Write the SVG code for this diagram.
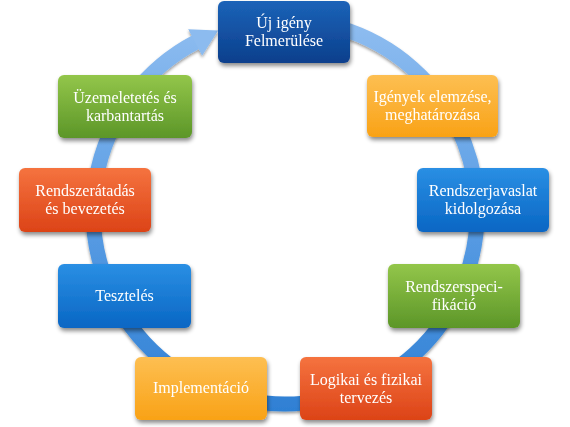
<svg xmlns="http://www.w3.org/2000/svg" width="570" height="427" viewBox="0 0 570 427">
<defs>
<linearGradient id="gRing" x1="0" y1="20" x2="0" y2="410" gradientUnits="userSpaceOnUse">
<stop offset="0" stop-color="#8fbdf0"/><stop offset="0.5" stop-color="#5a9de4"/><stop offset="1" stop-color="#2f80d4"/>
</linearGradient>
<linearGradient id="gNavy" x1="0" y1="0" x2="0" y2="1"><stop offset="0" stop-color="#1c63b8"/><stop offset="1" stop-color="#0b3f8c"/></linearGradient>
<linearGradient id="gBlue" x1="0" y1="0" x2="0" y2="1"><stop offset="0" stop-color="#2a8fe4"/><stop offset="1" stop-color="#0966c4"/></linearGradient>
<linearGradient id="gOrange" x1="0" y1="0" x2="0" y2="1"><stop offset="0" stop-color="#fdbf52"/><stop offset="1" stop-color="#f9a216"/></linearGradient>
<linearGradient id="gGreen" x1="0" y1="0" x2="0" y2="1"><stop offset="0" stop-color="#93c64a"/><stop offset="1" stop-color="#5c9628"/></linearGradient>
<linearGradient id="gRed" x1="0" y1="0" x2="0" y2="1"><stop offset="0" stop-color="#f5733f"/><stop offset="1" stop-color="#dc4317"/></linearGradient>
<filter id="sh" x="-20%" y="-20%" width="140%" height="150%">
<feDropShadow dx="1" dy="3" stdDeviation="2" flood-color="#000" flood-opacity="0.45"/>
</filter>
<filter id="shR" x="-10%" y="-10%" width="120%" height="120%">
<feDropShadow dx="0" dy="2" stdDeviation="1.5" flood-color="#000" flood-opacity="0.4"/>
</filter>
<marker id="arr" markerUnits="userSpaceOnUse" markerWidth="32" markerHeight="34" refX="1" refY="16" orient="auto">
<path d="M0,1 L26,16 L0,31 Z" fill="#8cbbef"/>
</marker>
<style>
.box{filter:url(#sh)}
.t{font-family:"Liberation Serif","DejaVu Serif",serif;font-size:16px;fill:#ffffff;text-anchor:middle}
</style>
</defs>
<g id="connectors" filter="url(#shR)">
<path d="M340,28 A192,192 0 1 1 196,42" fill="none" stroke="url(#gRing)" stroke-width="15" marker-end="url(#arr)"/>
</g>
<g id="n1" class="box"><rect x="218" y="1" width="132" height="62" rx="6" fill="url(#gNavy)"/>
<text class="t" x="284" y="28">Új igény</text><text class="t" x="284" y="46">Felmerülése</text></g>
<g id="n2" class="box"><rect x="367" y="75" width="131" height="62" rx="6" fill="url(#gOrange)"/>
<text class="t" x="432.5" y="102">Igények elemzése,</text><text class="t" x="432.5" y="120">meghatározása</text></g>
<g id="n3" class="box"><rect x="417" y="168" width="132" height="64" rx="6" fill="url(#gBlue)"/>
<text class="t" x="483" y="196">Rendszerjavaslat</text><text class="t" x="483" y="214">kidolgozása</text></g>
<g id="n4" class="box"><rect x="388" y="264" width="132" height="64" rx="6" fill="url(#gGreen)"/>
<text class="t" x="454" y="292">Rendszerspeci-</text><text class="t" x="454" y="310">fikáció</text></g>
<g id="n5" class="box"><rect x="300" y="357" width="132" height="63" rx="6" fill="url(#gRed)"/>
<text class="t" x="366" y="385">Logikai és fizikai</text><text class="t" x="366" y="403">tervezés</text></g>
<g id="n6" class="box"><rect x="135" y="357" width="132" height="63" rx="6" fill="url(#gOrange)"/>
<text class="t" x="201" y="393">Implementáció</text></g>
<g id="n7" class="box"><rect x="58" y="264" width="133" height="64" rx="6" fill="url(#gBlue)"/>
<text class="t" x="124.5" y="301">Tesztelés</text></g>
<g id="n8" class="box"><rect x="19" y="168" width="132" height="64" rx="6" fill="url(#gRed)"/>
<text class="t" x="85" y="196">Rendszerátadás</text><text class="t" x="85" y="214">és bevezetés</text></g>
<g id="n9" class="box"><rect x="58" y="75" width="134" height="63" rx="6" fill="url(#gGreen)"/>
<text class="t" x="125" y="103">Üzemeletetés és</text><text class="t" x="125" y="121">karbantartás</text></g>
</svg>
